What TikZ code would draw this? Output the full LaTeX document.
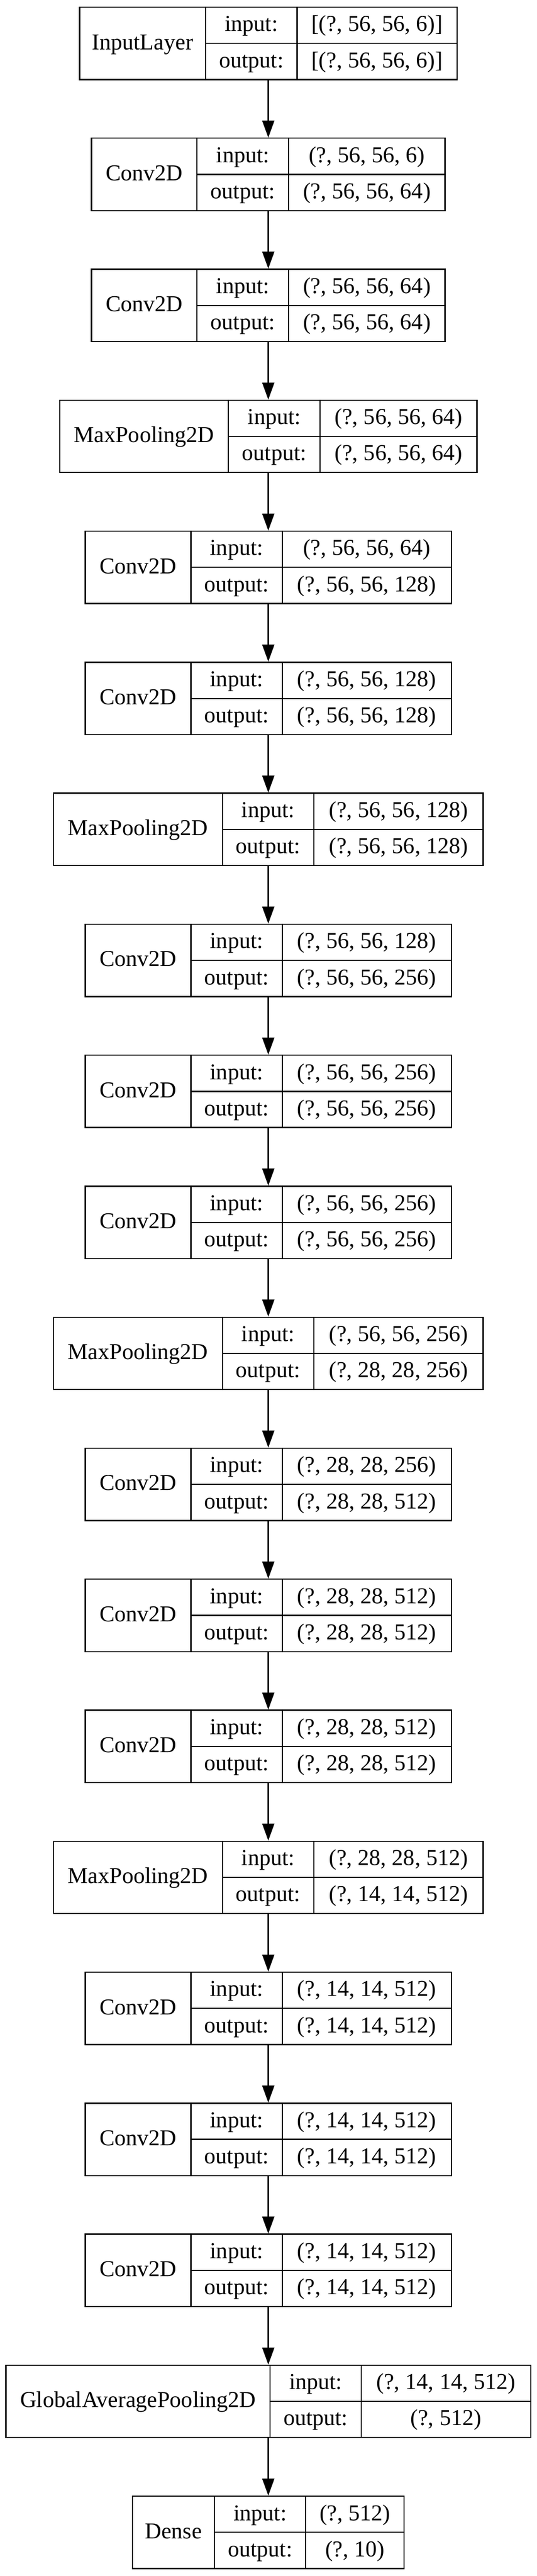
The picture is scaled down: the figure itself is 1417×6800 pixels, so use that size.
\documentclass[tikz,border=0pt]{standalone}
\usepackage{fontspec}
\setmainfont{Liberation Serif}
\usetikzlibrary{arrows.meta}
\tikzset{
  lbox/.style={draw=black, line width=3.2pt, rectangle, inner sep=0pt, minimum height=191pt},
  sepline/.style={draw=black, line width=3pt},
  txt/.style={anchor=base, inner sep=0pt, font=\fontsize{60pt}{72pt}\selectfont},
  arr/.style={draw=black, line width=3pt, -{Triangle[length=45pt,width=32pt]}}
}
% #1 name, #2 index, #3 half width, #4 div1, #5 div2, #6 label, #7 input, #8 output
\newcommand{\layerbox}[8]{%
  \pgfmathsetmacro{\lt}{19.1+345.8*#2}%
  \pgfmathsetmacro{\lr}{708+#3}%
  \pgfmathsetmacro{\ll}{708-#3}%
  \node[lbox, minimum width={2*#3*1pt}] (#1) at (708, \lt+95.5) {};
  \draw[sepline] (#4, \lt) -- (#4, \lt+191);
  \draw[sepline] (#5, \lt) -- (#5, \lt+191);
  \draw[sepline] (#4, \lt+95.5) -- (\lr, \lt+95.5);
  \node[txt] (#1-l) at ({(\ll+#4)/2}, \lt+111.5) {#6};
  \node[txt] (#1-i) at ({(#4+#5)/2}, \lt+63.75) {input:};
  \node[txt] (#1-iv) at ({(#5+\lr)/2}, \lt+63.75) {#7};
  \node[txt] (#1-o) at ({(#4+#5)/2}, \lt+159.25) {output:};
  \node[txt] (#1-ov) at ({(#5+\lr)/2}, \lt+159.25) {#8};
}
\begin{document}
\begin{tikzpicture}[x=1pt, y=-1pt]
\fill[white] (0,0) rectangle (1417,6800);
\useasboundingbox (0,0) rectangle (1417,6800);
% InputLayer
\layerbox{b0}{0}{498}{543}{784}{InputLayer}{[(?, 56, 56, 6)]}{[(?, 56, 56, 6)]}
\layerbox{b1}{1}{466.5}{520}{762}{Conv2D}{(?, 56, 56, 6)}{(?, 56, 56, 64)}
\layerbox{b2}{2}{466.5}{520}{762}{Conv2D}{(?, 56, 56, 64)}{(?, 56, 56, 64)}
\layerbox{b3}{3}{550.5}{603}{845}{MaxPooling2D}{(?, 56, 56, 64)}{(?, 56, 56, 64)}
\layerbox{b4}{4}{483}{504}{745}{Conv2D}{(?, 56, 56, 64)}{(?, 56, 56, 128)}
\layerbox{b5}{5}{483}{504}{745}{Conv2D}{(?, 56, 56, 128)}{(?, 56, 56, 128)}
\layerbox{b6}{6}{567}{587}{828}{MaxPooling2D}{(?, 56, 56, 128)}{(?, 56, 56, 128)}
\layerbox{b7}{7}{483}{504}{745}{Conv2D}{(?, 56, 56, 128)}{(?, 56, 56, 256)}
\layerbox{b8}{8}{483}{504}{745}{Conv2D}{(?, 56, 56, 256)}{(?, 56, 56, 256)}
\layerbox{b9}{9}{483}{504}{745}{Conv2D}{(?, 56, 56, 256)}{(?, 56, 56, 256)}
\layerbox{b10}{10}{567}{587}{828}{MaxPooling2D}{(?, 56, 56, 256)}{(?, 28, 28, 256)}
\layerbox{b11}{11}{483}{504}{745}{Conv2D}{(?, 28, 28, 256)}{(?, 28, 28, 512)}
\layerbox{b12}{12}{483}{504}{745}{Conv2D}{(?, 28, 28, 512)}{(?, 28, 28, 512)}
\layerbox{b13}{13}{483}{504}{745}{Conv2D}{(?, 28, 28, 512)}{(?, 28, 28, 512)}
\layerbox{b14}{14}{567}{587}{828}{MaxPooling2D}{(?, 28, 28, 512)}{(?, 14, 14, 512)}
\layerbox{b15}{15}{483}{504}{745}{Conv2D}{(?, 14, 14, 512)}{(?, 14, 14, 512)}
\layerbox{b16}{16}{483}{504}{745}{Conv2D}{(?, 14, 14, 512)}{(?, 14, 14, 512)}
\layerbox{b17}{17}{483}{504}{745}{Conv2D}{(?, 14, 14, 512)}{(?, 14, 14, 512)}
\layerbox{b18}{18}{692.5}{713}{953}{GlobalAveragePooling2D}{(?, 14, 14, 512)}{(?, 512)}
\layerbox{b19}{19}{358.5}{566}{807}{Dense}{(?, 512)}{(?, 10)}
% connectors
\foreach \a [evaluate=\a as \b using int(\a+1)] in {0,...,18} {
  \draw[arr] (b\a.south) -- (b\b.north);
}
\end{tikzpicture}
\end{document}
